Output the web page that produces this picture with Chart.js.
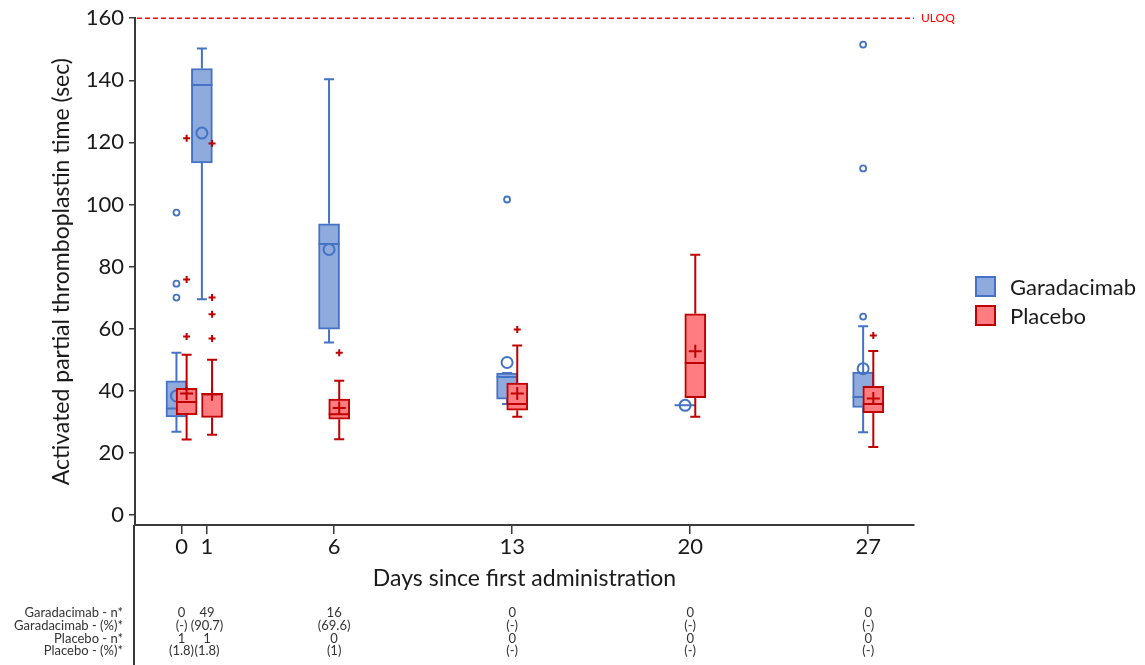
<!DOCTYPE html>
<html>
<head>
<meta charset="utf-8">
<script src="https://cdn.jsdelivr.net/npm/chart.js@4.4.0/dist/chart.umd.min.js"></script>
<style>
  body { margin: 0; background: #fff; }
  #wrap { position: relative; width: 1145px; height: 665px; }
  #legend { position: absolute; left: 975px; top: 272px; font-family: Lato, sans-serif; font-size: 22px; color: #1a1a1a; }
  .item { display: flex; align-items: center; height: 29px; }
  .sw { display: inline-block; width: 17px; height: 17px; border: 2px solid; margin-right: 14px; }
</style>
</head>
<body>
<div id="wrap">
  <canvas id="apttChart" width="1145" height="665"></canvas>
  <div id="legend">
    <div class="item"><span class="sw" style="background:#8faadc;border-color:#4472c4"></span>Garadacimab</div>
    <div class="item"><span class="sw" style="background:#ff7c80;border-color:#c00000"></span>Placebo</div>
  </div>
</div>
<script>
// days on the x axis
var days = [0, 1, 6, 13, 20, 27];
var dayLabels = ['0', '1', '6', '13', '20', '27'];
var yTicks = [0, 20, 40, 60, 80, 100, 120, 140, 160];
var uloq = 160;

// Garadacimab box stats per day
var garMin  = [26.8, 69.5, 55.5, 35.7, 35.3, 26.6];
var garQ1   = [31.6, 113.4, 59.8, 37.3, 35.3, 34.6];
var garMed  = [34.3, 138.5, 87.3, 44.4, 35.3, 38.0];
var garQ3   = [43.2, 143.8, 93.8, 45.7, 35.3, 46.0];
var garMax  = [52.2, 150.2, 140.3, 45.7, 35.3, 60.8];
var garMean = [38.3, 123.0, 85.5, 49.1, 35.3, 47.1];
var garOut  = [[97.4, 74.5, 70.0], [], [], [101.6], [], [151.5, 111.6, 63.9]];

// Placebo box stats per day
var plaMin  = [24.3, 25.8, 24.4, 31.6, 31.6, 21.9];
var plaQ1   = [32.3, 31.4, 30.8, 33.7, 37.8, 32.9];
var plaMed  = [36.4, 38.9, 32.4, 35.7, 48.9, 35.7];
var plaQ3   = [40.8, 39.2, 37.3, 42.5, 64.8, 41.4];
var plaMax  = [51.6, 50.0, 43.2, 54.6, 83.8, 52.8];
var plaMean = [39.1, 38.9, 34.4, 39.1, 52.7, 37.5];
var plaOut  = [[121.3, 75.8, 57.5], [119.6, 70.0, 64.6, 56.8], [52.2], [59.7], [], [57.8]];

// table under the axis
var rowLabels = ['Garadacimab - n*', 'Garadacimab - (%)*', 'Placebo - n*', 'Placebo - (%)*'];
var garN   = ['0', '49', '16', '0', '0', '0'];
var garPct = ['(-)', '(90.7)', '(69.6)', '(-)', '(-)', '(-)'];
var plaN   = ['1', '1', '0', '0', '0', '0'];
var plaPct = ['(1.8)', '(1.8)', '(1)', '(-)', '(-)', '(-)'];

var blueLine = '#4472c4', blueFill = '#8faadc';
var redLine = '#c00000', redFill = '#ff7c80';
var garShift = -0.2, plaShift = 0.2;
var axisColor = '#3a3a3a', textColor = '#1a1a1a';

function boxData(shift, q1, q3) {
  return days.map(function(d, i) { return {x: d + shift, y: [q1[i], q3[i]]}; });
}
function pointData(shift, vals) {
  return days.map(function(d, i) { return {x: d + shift, y: vals[i]}; });
}
function outlierData(shift, outs) {
  var pts = [];
  days.forEach(function(d, i) {
    outs[i].forEach(function(v) { pts.push({x: d + shift, y: v}); });
  });
  return pts;
}

var whiskerPlugin = {
  id: 'whiskers',
  afterDatasetDraw: function(chart, args) {
    var ds = chart.data.datasets[args.index];
    if (!ds.stats) return;
    var ctx = chart.ctx, y = chart.scales.y, s = ds.stats;
    ctx.save();
    ctx.strokeStyle = ds.borderColor;
    ctx.lineWidth = 2;
    args.meta.data.forEach(function(bar, i) {
      var x = bar.x, half = bar.width / 2, cap = 5;
      var yMin = y.getPixelForValue(s.min[i]), yMax = y.getPixelForValue(s.max[i]);
      var yQ1 = y.getPixelForValue(s.q1[i]), yQ3 = y.getPixelForValue(s.q3[i]);
      var yMed = y.getPixelForValue(s.med[i]);
      ctx.beginPath();
      ctx.moveTo(x, yQ1); ctx.lineTo(x, yMin);
      ctx.moveTo(x - cap, yMin); ctx.lineTo(x + cap, yMin);
      ctx.moveTo(x, yQ3); ctx.lineTo(x, yMax);
      ctx.moveTo(x - cap, yMax); ctx.lineTo(x + cap, yMax);
      ctx.moveTo(x - half, yMed); ctx.lineTo(x + half, yMed);
      ctx.stroke();
    });
    ctx.restore();
  }
};

var extrasPlugin = {
  id: 'extras',
  afterDraw: function(chart) {
    var ctx = chart.ctx, x = chart.scales.x, y = chart.scales.y, area = chart.chartArea;
    ctx.save();
    // y axis line runs down through the table
    ctx.strokeStyle = axisColor;
    ctx.lineWidth = 2;
    ctx.beginPath();
    ctx.moveTo(area.left - 1, area.bottom);
    ctx.lineTo(area.left - 1, chart.height);
    ctx.stroke();

    // ULOQ line
    var yu = y.getPixelForValue(uloq);
    ctx.strokeStyle = '#ff0000';
    ctx.lineWidth = 1.5;
    ctx.setLineDash([5, 3]);
    ctx.beginPath();
    ctx.moveTo(area.left + 2, yu);
    ctx.lineTo(area.right, yu);
    ctx.stroke();
    ctx.setLineDash([]);
    ctx.fillStyle = '#ff0000';
    ctx.font = '12px Lato';
    ctx.textAlign = 'left';
    ctx.textBaseline = 'middle';
    ctx.fillText('ULOQ', area.right + 7, yu);

    // n / % table
    ctx.font = '13px Lato';
    ctx.fillStyle = '#333';
    var rows = [garN, garPct, plaN, plaPct];
    rows.forEach(function(row, r) {
      var yy = 613 + r * 12.7;
      ctx.textAlign = 'right';
      ctx.fillText(rowLabels[r], area.left - 12, yy);
      ctx.textAlign = 'center';
      row.forEach(function(t, i) { ctx.fillText(t, x.getPixelForValue(days[i]), yy); });
    });
    ctx.restore();
  }
};

Chart.defaults.font.family = "Lato, 'DejaVu Sans', sans-serif";
Chart.defaults.color = textColor;

var ctx = document.getElementById('apttChart').getContext('2d');
var myChart = new Chart(ctx, {
  type: 'bar',
  data: {
    datasets: [{
      label: 'Garadacimab',
      data: boxData(garShift, garQ1, garQ3),
      stats: {min: garMin, q1: garQ1, med: garMed, q3: garQ3, max: garMax},
      backgroundColor: blueFill,
      borderColor: blueLine,
      borderWidth: 2,
      borderSkipped: false,
      grouped: false,
      barThickness: 21,
      categoryPercentage: 1,
      barPercentage: 2.06,
      order: 6
    }, {
      type: 'scatter',
      label: 'Garadacimab outliers',
      data: outlierData(garShift, garOut),
      pointStyle: 'circle',
      pointRadius: 3,
      borderWidth: 1.8,
      borderColor: blueLine,
      backgroundColor: 'rgba(0,0,0,0)',
      order: 5
    }, {
      type: 'scatter',
      label: 'Garadacimab mean',
      data: pointData(garShift, garMean),
      pointStyle: 'circle',
      pointRadius: 5.5,
      borderWidth: 2,
      borderColor: blueLine,
      backgroundColor: 'rgba(0,0,0,0)',
      order: 4
    }, {
      label: 'Placebo',
      data: boxData(plaShift, plaQ1, plaQ3),
      stats: {min: plaMin, q1: plaQ1, med: plaMed, q3: plaQ3, max: plaMax},
      backgroundColor: redFill,
      borderColor: redLine,
      borderWidth: 2,
      borderSkipped: false,
      grouped: false,
      barThickness: 21,
      categoryPercentage: 1,
      barPercentage: 2.06,
      order: 3
    }, {
      type: 'scatter',
      label: 'Placebo outliers',
      data: outlierData(plaShift, plaOut),
      pointStyle: 'cross',
      pointRadius: 3.5,
      borderWidth: 2,
      borderColor: redLine,
      order: 2
    }, {
      type: 'scatter',
      label: 'Placebo mean',
      data: pointData(plaShift, plaMean),
      pointStyle: 'cross',
      pointRadius: 6.5,
      borderWidth: 2,
      borderColor: redLine,
      order: 1
    }]
  },
  options: {
    responsive: false,
    animation: false,
    events: [],
    layout: { padding: { left: 0, right: 231, top: 18, bottom: 71 } },
    plugins: {
      legend: { display: false },
      tooltip: { enabled: false }
    },
    scales: {
      x: {
        type: 'linear',
        offset: false,
        min: -1.83,
        max: 28.8,
        afterBuildTicks: function(scale) {
          scale.ticks = days.map(function(d) { return {value: d}; });
        },
        afterFit: function(scale) { scale.height = 69; },
        ticks: {
          autoSkip: false,
          maxRotation: 0,
          padding: 0,
          font: { size: 22 },
          color: textColor,
          callback: function(value, index) { return dayLabels[index]; }
        },
        grid: { offset: false, drawOnChartArea: false, tickLength: 9, color: axisColor, lineWidth: 1.5 },
        border: { display: true, color: axisColor, width: 2 },
        title: {
          display: true,
          text: 'Days since first administration',
          font: { size: 23 },
          color: textColor,
          padding: { top: 0, bottom: 2 }
        }
      },
      y: {
        type: 'linear',
        min: -3.25,
        max: 160,
        afterBuildTicks: function(scale) {
          scale.ticks = yTicks.map(function(v) { return {value: v}; });
        },
        afterFit: function(scale) { scale.width = 135; },
        ticks: { padding: 5, font: { size: 22 }, color: textColor },
        grid: { drawOnChartArea: false, tickLength: 6, color: axisColor, lineWidth: 1.5 },
        border: { display: true, color: axisColor, width: 2 },
        title: {
          display: true,
          text: 'Activated partial thromboplastin time (sec)',
          font: { size: 23 },
          color: textColor,
          padding: { top: 48, bottom: 0 }
        }
      }
    }
  },
  plugins: [whiskerPlugin, extrasPlugin]
});
</script>
</body>
</html>
